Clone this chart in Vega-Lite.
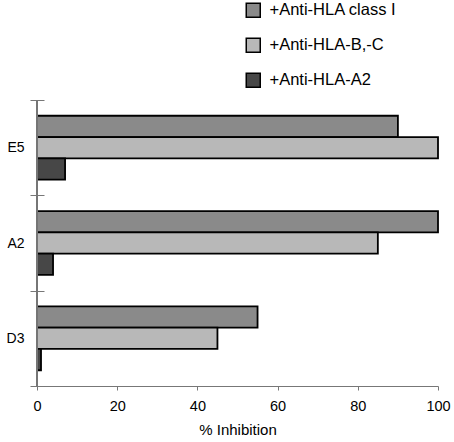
{
  "$schema": "https://vega.github.io/schema/vega-lite/v6.json",
  "autosize": "none",
  "width": 401,
  "height": 286,
  "padding": {"left": 37, "top": 100, "right": 16, "bottom": 56},
  "background": "white",
  "config": {
    "view": {"stroke": null},
    "font": "Liberation Sans"
  },
  "data": {
    "values": [
      {"cell": "E5", "antibody": "+Anti-HLA class I", "ord": 1, "inhibition": 90},
      {"cell": "E5", "antibody": "+Anti-HLA-B,-C", "ord": 2, "inhibition": 100},
      {"cell": "E5", "antibody": "+Anti-HLA-A2", "ord": 3, "inhibition": 7},
      {"cell": "A2", "antibody": "+Anti-HLA class I", "ord": 1, "inhibition": 100},
      {"cell": "A2", "antibody": "+Anti-HLA-B,-C", "ord": 2, "inhibition": 85},
      {"cell": "A2", "antibody": "+Anti-HLA-A2", "ord": 3, "inhibition": 4},
      {"cell": "D3", "antibody": "+Anti-HLA class I", "ord": 1, "inhibition": 55},
      {"cell": "D3", "antibody": "+Anti-HLA-B,-C", "ord": 2, "inhibition": 45},
      {"cell": "D3", "antibody": "+Anti-HLA-A2", "ord": 3, "inhibition": 1}
    ]
  },
  "layer": [
    {
      "mark": {"type": "bar", "stroke": "black", "strokeWidth": 1.8},
      "encoding": {
        "y": {
          "field": "cell",
          "type": "nominal",
          "sort": ["E5", "A2", "D3"],
          "scale": {"paddingInner": 0, "paddingOuter": 0},
          "axis": {
            "title": null,
            "tickBand": "extent",
            "domain": false,
            "offset": -7,
            "tickSize": 14,
            "tickColor": "#777",
            "tickWidth": 1,
            "labelPadding": 6,
            "labelFontSize": 14,
            "labelColor": "black",
            "labelFont": "Liberation Sans"
          }
        },
        "yOffset": {
          "field": "antibody",
          "type": "nominal",
          "sort": ["+Anti-HLA class I", "+Anti-HLA-B,-C", "+Anti-HLA-A2"],
          "scale": {"paddingInner": 0, "paddingOuter": 0.74}
        },
        "x": {
          "field": "inhibition",
          "type": "quantitative",
          "scale": {"domain": [0, 100], "nice": false},
          "axis": {
            "title": "% Inhibition",
            "titleFontSize": 15,
            "titleFontWeight": "normal",
            "titleColor": "black",
            "titlePadding": 10,
            "values": [0, 20, 40, 60, 80, 100],
            "grid": false,
            "labelFlush": false,
            "domainColor": "#777",
            "domainWidth": 1,
            "tickColor": "#777",
            "tickSize": 4,
            "labelFontSize": 14.5,
            "labelColor": "black",
            "labelPadding": 9
          }
        },
        "fill": {
          "field": "antibody",
          "type": "nominal",
          "sort": ["+Anti-HLA class I", "+Anti-HLA-B,-C", "+Anti-HLA-A2"],
          "scale": {"range": ["#8a8a8a", "#b8b8b8", "#474747"]},
          "legend": {
            "title": null,
            "orient": "none",
            "legendX": 208,
            "legendY": -98,
            "symbolType": "square",
            "symbolSize": 196,
            "symbolStrokeColor": "black",
            "symbolStrokeWidth": 1.5,
            "rowPadding": 14,
            "labelFontSize": 16.5,
            "labelColor": "black",
            "labelOffset": 8,
            "labelLimit": 300
          }
        }
      }
    },
    {
      "mark": {"type": "rule", "color": "#777", "strokeWidth": 1},
      "encoding": {"x": {"datum": 0}}
    }
  ]
}
